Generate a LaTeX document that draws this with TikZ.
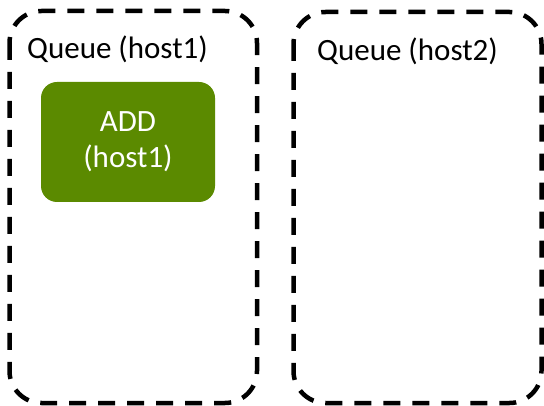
\documentclass[tikz,border=0pt]{standalone}
\usepackage{fontspec}
\setmainfont{Carlito}
\definecolor{addgreen}{HTML}{5B8A00}
\begin{document}
\begin{tikzpicture}[x=1pt,y=-1pt,
  queuebox/.style={draw=black,line width=4.5pt,dash pattern=on 17pt off 12pt,rounded corners=32pt},
  queuelabel/.style={anchor=base west,inner sep=0pt,font=\fontsize{31}{36}\selectfont},
  opbox/.style={fill=addgreen,draw=none,rounded corners=16pt,text=white,align=center,
    minimum width=174pt,minimum height=120pt,inner sep=0pt,font=\fontsize{31}{36}\selectfont}]
  \useasboundingbox (0,0) rectangle (544,406);
  % the two host queues
  \draw[queuebox] (9.5,11) rectangle (257,403);
  \draw[queuebox] (293.5,12) rectangle (541.5,403);
  \node[queuelabel] (q1) at (27,59) {Queue (host1)};
  \node[queuelabel] (q2) at (317,61) {Queue (host2)};
  % operation placed on host1
  \node[opbox] (add) at (128,142) {ADD\\(host1)};
\end{tikzpicture}
\end{document}
